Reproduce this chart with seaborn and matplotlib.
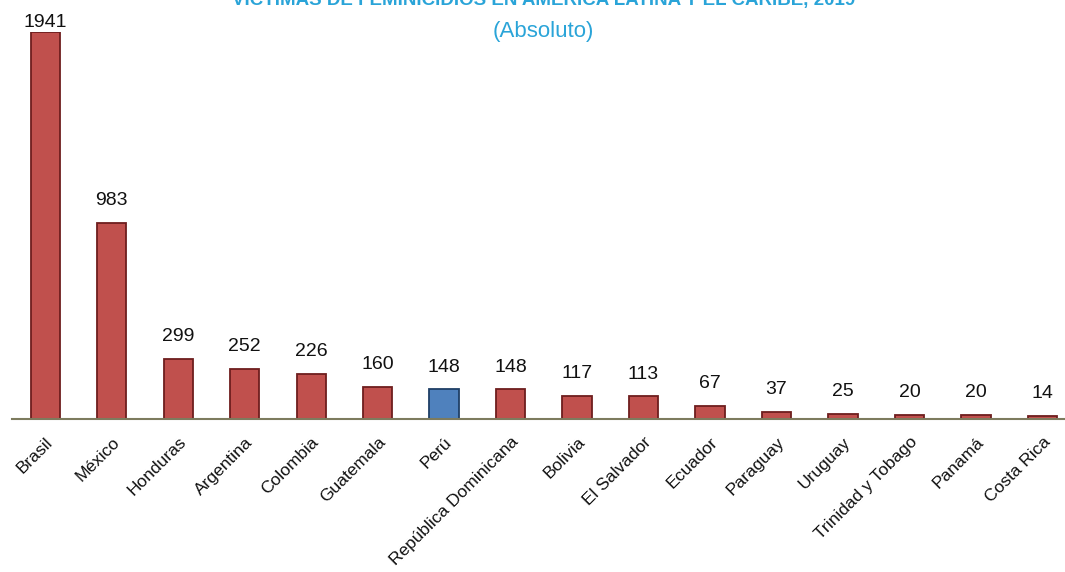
import matplotlib
matplotlib.use("Agg")
import matplotlib.pyplot as plt
import seaborn as sns
import pandas as pd

paises = ["Brasil", "México", "Honduras", "Argentina", "Colombia", "Guatemala", "Perú",
          "República Dominicana", "Bolivia", "El Salvador", "Ecuador", "Paraguay",
          "Uruguay", "Trinidad y Tobago", "Panamá", "Costa Rica"]
victimas = [1941, 983, 299, 252, 226, 160, 148, 148, 117, 113, 67, 37, 25, 20, 20, 14]
destacado = "Perú"

titulo = "VÍCTIMAS DE FEMINICIDIOS EN AMÉRICA LATINA Y EL CARIBE, 2019"
subtitulo = "(Absoluto)"

sns.set_theme(style="white")
plt.rcParams['font.family'] = ['Liberation Sans', 'DejaVu Sans']

df = pd.DataFrame({"pais": paises, "victimas": victimas})
rojo, rojo_borde = "#C0504D", "#6E1E1E"
azul, azul_borde = "#4F81BD", "#1F3F66"
palette = {p: (azul if p == destacado else rojo) for p in paises}

W, H = 1065, 572
fig = plt.figure(figsize=(W / 100, H / 100), dpi=100)
ax = fig.add_axes([12 / W, (H - 419) / H, 1 - 12 / W, (419 - 32) / H])

sns.barplot(data=df, x="pais", y="victimas", hue="pais", palette=palette,
            order=paises, width=0.44, legend=False, ax=ax, saturation=1)
for patch, p in zip(ax.patches, paises):
    patch.set_edgecolor(azul_borde if p == destacado else rojo_borde)
    patch.set_linewidth(1.3)

ax.set_xlim(-0.5, 15.34)
ax.set_ylim(0, max(victimas))
for s in ["top", "right", "left"]:
    ax.spines[s].set_visible(False)
ax.spines["bottom"].set_color("#7d7b5e")
ax.spines["bottom"].set_linewidth(1.5)
ax.set_yticks([])
ax.set_xlabel("")
ax.set_ylabel("")
ax.tick_params(axis="x", length=0, pad=11)
ax.set_xticks(range(len(paises)))
ax.set_xticklabels(paises, rotation=45, ha="right", rotation_mode="anchor",
                   fontsize=12.5, color="#111111")

for i, v in enumerate(victimas):
    off = 1 if v == max(victimas) else 10
    ax.annotate(str(v), (i, v), xytext=(0, off), textcoords="offset points",
                ha="center", va="bottom", fontsize=14, color="#111111",
                annotation_clip=False)

fig.text(0.51, 1 - 5 / H, titulo, ha="center", va="baseline", fontsize=13.5,
         fontweight="bold", color="#2AA4D8")
fig.text(0.51, 1 - 32 / H, subtitulo, ha="center", va="center", fontsize=16,
         color="#2AA4D8")

fig.savefig("out.png", dpi=100)
